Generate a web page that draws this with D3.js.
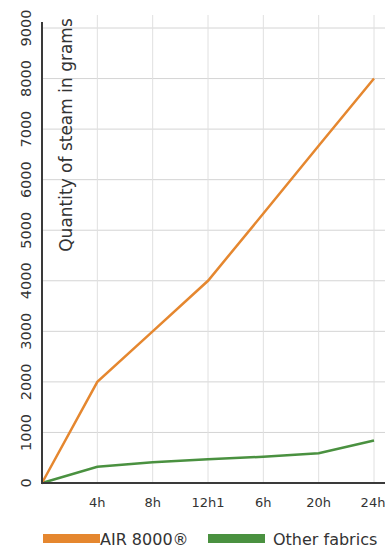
<!DOCTYPE html>
<html>
<head>
<meta charset="utf-8">
<script src="https://cdn.jsdelivr.net/npm/d3@7"></script>
<style>
  body { margin: 0; background: #fff; }
  text { font-family: "DejaVu Sans", "Roboto", sans-serif; fill: #333; }
</style>
</head>
<body>
<svg id="chart" width="385" height="551"></svg>
<script>
// chart data
var hours = [0, 4, 8, 12, 16, 20, 24];
var tickLabels = ["4h", "8h", "12h1", "6h", "20h", "24h"];
var airValues = [0, 2000, 3000, 4000, 5330, 6670, 8000];
var otherValues = [0, 320, 410, 470, 520, 590, 840];
var yTicks = [0, 1000, 2000, 3000, 4000, 5000, 6000, 7000, 8000, 9000];

var svg = d3.select("#chart");

var x = d3.scaleLinear().domain([0, 24]).range([42, 374]);
var y = d3.scaleLinear().domain([0, 9000]).range([483, 28]);

// grid
svg.append("g").selectAll("line.h")
    .data(yTicks.slice(1))
  .enter().append("line")
    .attr("x1", x(0)).attr("x2", 385)
    .attr("y1", function(d) { return y(d); })
    .attr("y2", function(d) { return y(d); })
    .style("stroke", "#d4d4d4").style("stroke-width", 1);

svg.append("g").selectAll("line.v")
    .data(hours.slice(1))
  .enter().append("line")
    .attr("x1", function(d) { return x(d); })
    .attr("x2", function(d) { return x(d); })
    .attr("y1", 15).attr("y2", y(0))
    .style("stroke", "#e0e0e0").style("stroke-width", 1);

// lines
var line = d3.line()
    .x(function(d, i) { return x(hours[i]); })
    .y(function(d) { return y(d); });

svg.append("path").datum(otherValues)
    .attr("d", line)
    .style("fill", "none").style("stroke", "#4a9140").style("stroke-width", 2.5);

svg.append("path").datum(airValues)
    .attr("d", line)
    .style("fill", "none").style("stroke", "#e5872f").style("stroke-width", 2.5);

// axes lines
svg.append("line")
    .attr("x1", x(0)).attr("x2", x(0)).attr("y1", 22).attr("y2", y(0) + 1)
    .style("stroke", "#3a3a3a").style("stroke-width", 2);
svg.append("line")
    .attr("x1", x(0) - 1).attr("x2", 385).attr("y1", y(0)).attr("y2", y(0))
    .style("stroke", "#3a3a3a").style("stroke-width", 2);

// y tick labels (rotated)
svg.append("g").selectAll("text")
    .data(yTicks)
  .enter().append("text")
    .attr("transform", function(d) { return "translate(31," + y(d) + ") rotate(-90)"; })
    .attr("text-anchor", "middle")
    .style("font-size", "14.5px")
    .text(function(d) { return d; });

// x tick labels
svg.append("g").selectAll("text")
    .data(tickLabels)
  .enter().append("text")
    .attr("x", function(d, i) { return x(hours[i + 1]) - (i == 5 ? 1 : 0); })
    .attr("y", 507)
    .attr("text-anchor", "middle")
    .style("font-size", "13px")
    .text(function(d) { return d; });

// y axis title
svg.append("text")
    .attr("transform", "translate(72,135) rotate(-90)")
    .attr("text-anchor", "middle")
    .style("font-size", "17px")
    .text("Quantity of steam in grams");

// legend
var legend = [
  { name: "AIR 8000\u00AE", color: "#e5872f", x: 43 },
  { name: "Other fabrics", color: "#4a9140", x: 208 }
];
var lg = svg.append("g").selectAll("g")
    .data(legend)
  .enter().append("g")
    .attr("transform", function(d) { return "translate(" + d.x + ",534)"; });
lg.append("rect")
    .attr("width", 57).attr("height", 9)
    .style("fill", function(d) { return d.color; });
lg.append("text")
    .attr("x", function(d, i) { return i ? 65 : 57; })
    .attr("y", 11)
    .style("font-size", "16px")
    .text(function(d) { return d.name; });
</script>
</body>
</html>
